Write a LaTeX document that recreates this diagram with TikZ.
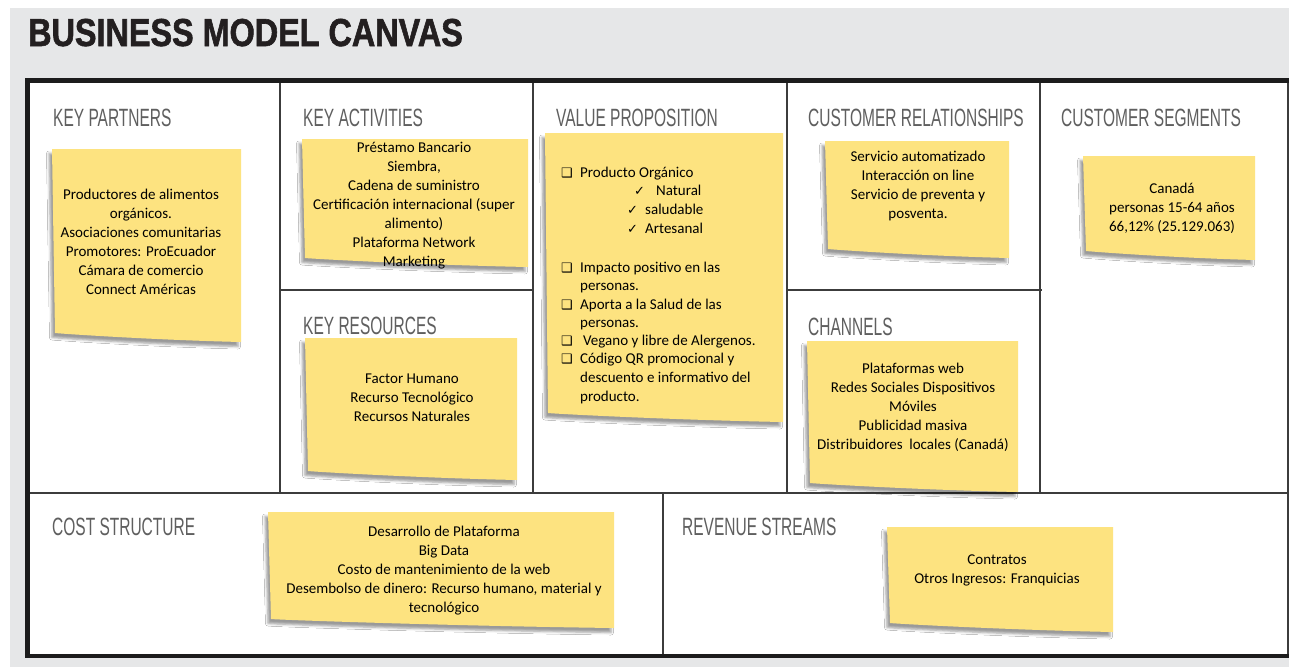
\documentclass[tikz,border=0pt]{standalone}
\usepackage{fontspec}
\setmainfont{Carlito}
\newfontfamily\hdfont[FakeStretch=0.62]{Liberation Sans}
\newfontfamily\ttlfont[FakeStretch=0.83,FakeBold=1.5]{Liberation Sans Bold}
\newfontfamily\symfont{DejaVu Sans}
\usetikzlibrary{shadows.blur}
\definecolor{bggray}{RGB}{230,231,232}
\definecolor{notey}{RGB}{253,227,128}
\definecolor{gridc}{RGB}{60,60,60}
\definecolor{framec}{RGB}{28,28,28}
\definecolor{hdc}{RGB}{95,95,95}
\definecolor{ttlc}{RGB}{35,31,32}
\tikzset{
  gridline/.style={draw=gridc, line width=1.6pt},
  frameline/.style={draw=framec, line width=4.5pt},
  notefill/.style={fill=notey, blur shadow={shadow xshift=-3pt, shadow yshift=-4.5pt, shadow blur radius=2.5pt, shadow opacity=40}},
  notetext/.style={font=\fontsize{15}{19}\selectfont, align=center, inner sep=0pt, text=black},
  vpline/.style={font=\fontsize{15}{19}\selectfont, anchor=base west, inner sep=0pt, text=black},
  vpmark/.style={font=\symfont\fontsize{13}{15}\selectfont, anchor=base west, inner sep=0pt, text=black},
  hd/.style={font=\hdfont\fontsize{25}{25}\selectfont, text=hdc, anchor=base west, inner sep=0pt},
  ttl/.style={font=\ttlfont\fontsize{39}{39}\selectfont, text=ttlc, anchor=base west, inner sep=0pt}
}
\newcommand{\stickynote}[5]{%
  \pgfmathsetmacro{\notew}{(#4-#2)*0.45}%
  \fill[notefill] (#2,#3) -- (#4,#3) -- (#4,#5) .. controls +(-\notew,-2) and +(10,1) .. ([xshift=3pt,yshift=9pt]#2,#5) -- cycle;
  \coordinate (#1) at ({(#2+#4)/2},{(#3+#5)/2});
}
\begin{document}
\begin{tikzpicture}[x=1pt,y=-1pt]
\useasboundingbox (0,0) rectangle (1289,667);
\fill[white] (0,0) rectangle (1289,667);
\fill[bggray] (10,8) rectangle (1289,667);
\fill[white] (27,80) rectangle (1288,656);

% title
\node[ttl] (title) at (28,46) {BUSINESS MODEL CANVAS};

% grid
\draw[gridline] (280,80) -- (280,493);
\draw[gridline] (533,80) -- (533,493);
\draw[gridline] (787,80) -- (787,493);
\draw[gridline] (1040,80) -- (1040,493);
\draw[gridline] (280,290) -- (533,290);
\draw[gridline] (787,290) -- (1042,290);
\draw[gridline] (27,493) -- (1288,493);
\draw[gridline] (663,493) -- (663,656);
\draw[gridline] (1288,80) -- (1288,656);
\draw[frameline] (1289,80.5) -- (27.5,80.5) -- (27.5,656) -- (1289,656);

% section headings
\node[hd] (hkp) at (53,126) {KEY PARTNERS};
\node[hd] (hka) at (303,126) {KEY ACTIVITIES};
\node[hd] (hvp) at (556,126) {VALUE PROPOSITION};
\node[hd] (hcr) at (808,126) {CUSTOMER RELATIONSHIPS};
\node[hd] (hcs) at (1061,126) {CUSTOMER SEGMENTS};
\node[hd] (hkr) at (303,334) {KEY RESOURCES};
\node[hd] (hch) at (808,335) {CHANNELS};
\node[hd] (hcost) at (52,535) {COST STRUCTURE};
\node[hd] (hrev) at (682,535) {REVENUE STREAMS};

% sticky notes
\stickynote{nkp}{52}{149}{241}{342}
\stickynote{nka}{302}{139}{528}{267}
\stickynote{nvp}{545}{133}{783}{422}
\stickynote{ncr}{825}{141}{1009}{258}
\stickynote{ncs}{1083}{156}{1255}{260}
\stickynote{nkr}{305}{338}{517}{480}
\stickynote{nch}{807}{341}{1018}{492}
\stickynote{ncost}{268}{512}{614}{628}
\stickynote{nrev}{887}{527}{1113}{632}

% note texts
\node[notetext] (tkp) at (141,242) {Productores de alimentos\\ orgánicos.\\ Asociaciones comunitarias\\ Promotores: ProEcuador\\ Cámara de comercio\\ Connect Américas};
\node[notetext] (tka) at (414,206) {Préstamo Bancario\\ Siembra,\\ Cadena de suministro\\ Certificación internacional (super\\ alimento)\\ Plataforma Network\\ Marketing};
\node[notetext] (tcr) at (918,186) {Servicio automatizado\\ Interacción on line\\ Servicio de preventa y\\ posventa.};
\node[notetext] (tcs) at (1172,208) {Canadá\\ personas 15-64 años\\ 66,12\% (25.129.063)};
\node[notetext] (tkr) at (412,398) {Factor Humano\\ Recurso Tecnológico\\ Recursos Naturales};
\node[notetext] (tch) at (913,407) {Plataformas web\\ Redes Sociales Dispositivos\\ Móviles\\ Publicidad masiva\\ Distribuidores\ \ locales (Canadá)};
\node[notetext] (tcost) at (444,571) {Desarrollo de Plataforma\\ Big Data\\ Costo de mantenimiento de la web\\ Desembolso de dinero: Recurso humano, material y\\ tecnológico};
\node[notetext] (trev) at (997,570) {Contratos\\ Otros Ingresos: Franquicias};

% value proposition list
\node[vpmark] (m1) at (561,177) {❑};
\node[vpline] (v1) at (580,177) {Producto Orgánico};
\node[vpmark] (c1) at (634,195) {✓};
\node[vpline] (v2) at (656,195) {Natural};
\node[vpmark] (c2) at (627,214) {✓};
\node[vpline] (v3) at (645,214) {saludable};
\node[vpmark] (c3) at (627,233) {✓};
\node[vpline] (v4) at (645,233) {Artesanal};
\node[vpmark] (m2) at (561,272) {❑};
\node[vpline] (v5) at (580,272) {Impacto positivo en las};
\node[vpline] (v6) at (580,290) {personas.};
\node[vpmark] (m3) at (561,309) {❑};
\node[vpline] (v7) at (580,309) {Aporta a la Salud de las};
\node[vpline] (v8) at (580,327) {personas.};
\node[vpmark] (m4) at (561,345) {❑};
\node[vpline] (v9) at (583,345) {Vegano y libre de Alergenos.};
\node[vpmark] (m5) at (561,363) {❑};
\node[vpline] (v10) at (580,363) {Código QR promocional y};
\node[vpline] (v11) at (580,382) {descuento e informativo del};
\node[vpline] (v12) at (580,401) {producto.};
\end{tikzpicture}
\end{document}
